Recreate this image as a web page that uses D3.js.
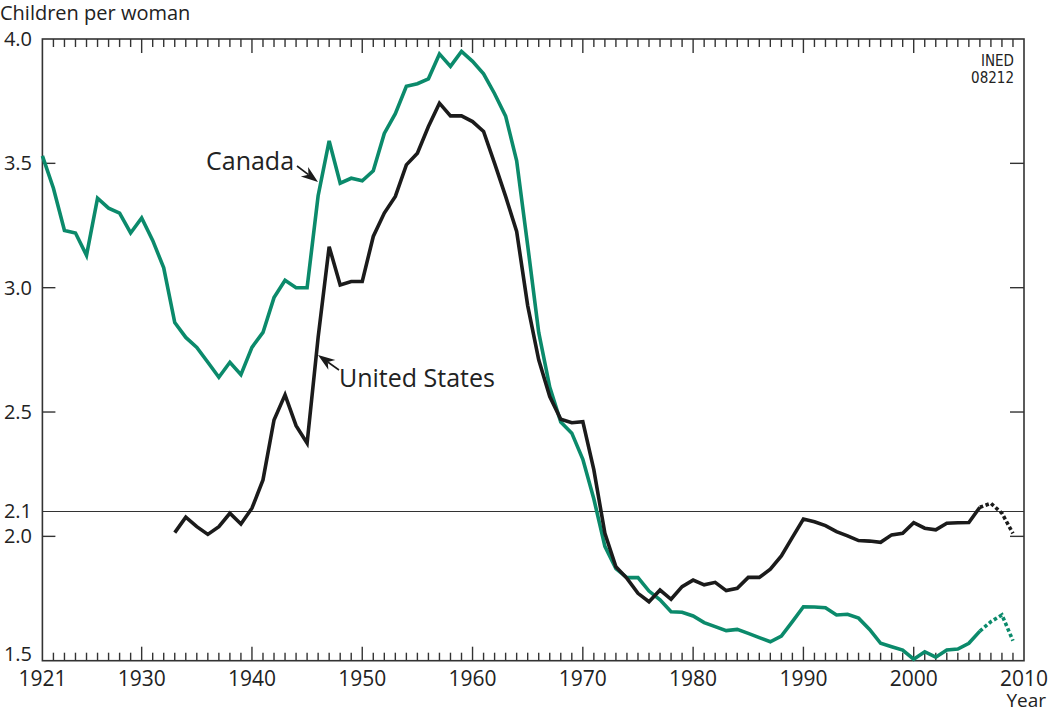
<!DOCTYPE html>
<html>
<head>
<meta charset="utf-8">
<script src="https://cdn.jsdelivr.net/npm/d3@7"></script>
<style>
  body { margin: 0; background: #fff; }
  svg text { font-family: "Open Sans", "Noto Sans", sans-serif; fill: #222; }
</style>
</head>
<body>
<svg id="chart" width="1050" height="714"></svg>
<script>
// total fertility rate, children per woman
const canadaStart = 1921;
const canadaTfr = [
  3.53, 3.40, 3.23, 3.22, 3.13, 3.36, 3.32, 3.30, 3.22, 3.28,
  3.19, 3.08, 2.86, 2.80, 2.76, 2.70, 2.64, 2.70, 2.65, 2.76,
  2.82, 2.96, 3.03, 3.00, 3.00, 3.37, 3.59, 3.42, 3.44, 3.43,
  3.47, 3.62, 3.70, 3.81, 3.82, 3.84, 3.94, 3.89, 3.95, 3.91,
  3.86, 3.78, 3.69, 3.51, 3.17, 2.82, 2.60, 2.46, 2.415, 2.31,
  2.15, 1.96, 1.87, 1.834, 1.834, 1.78, 1.745, 1.697, 1.695, 1.68,
  1.653, 1.637, 1.621, 1.626, 1.61, 1.593, 1.576, 1.599, 1.657, 1.717,
  1.716, 1.713, 1.684, 1.687, 1.671, 1.626, 1.57, 1.556, 1.543, 1.506,
  1.536, 1.514, 1.543, 1.547, 1.57, 1.619, 1.657, 1.684, 1.58
];
const usStart = 1933;
const usTfr = [
  2.015, 2.077, 2.039, 2.008, 2.039, 2.093, 2.05, 2.113, 2.227, 2.468,
  2.569, 2.445, 2.375, 2.80, 3.165, 3.011, 3.025, 3.025, 3.206, 3.30,
  3.367, 3.494, 3.541, 3.648, 3.742, 3.691, 3.691, 3.668, 3.628, 3.50,
  3.367, 3.226, 2.928, 2.71, 2.562, 2.471, 2.457, 2.461, 2.267, 2.012,
  1.878, 1.831, 1.771, 1.737, 1.784, 1.747, 1.798, 1.824, 1.805, 1.815,
  1.782, 1.791, 1.835, 1.835, 1.868, 1.921, 1.996, 2.07, 2.059, 2.043,
  2.019, 2.002, 1.983, 1.981, 1.976, 2.006, 2.012, 2.055, 2.033, 2.026,
  2.053, 2.055, 2.056, 2.117, 2.133, 2.093, 2.012
];
const estimatedFrom = 2006; // dotted after this year
const xTickLabels = [1921, 1930, 1940, 1950, 1960, 1970, 1980, 1990, 2000, 2010];
const yTickLabels = [1.5, 2.0, 2.5, 3.0, 3.5, 4.0];
const replacementLevel = 2.1;

const green = "#0b8a6b", black = "#1b1b1b", axisCol = "#333";

const svg = d3.select("#chart");
const x = d3.scaleLinear().domain([1921, 2010]).range([42.4, 1024]);
const y = d3.scaleLinear().domain([1.5, 4.0]).range([660.7, 39]);

const toPoints = (start, vals) => vals.map((v, i) => ({ year: start + i, v }));
const canada = toPoints(canadaStart, canadaTfr);
const us = toPoints(usStart, usTfr);

const line = d3.line().x(d => x(d.year)).y(d => y(d.v));

// replacement line
svg.append("line")
  .attr("x1", x(1921)).attr("x2", x(2010))
  .attr("y1", y(replacementLevel)).attr("y2", y(replacementLevel))
  .attr("stroke", axisCol).attr("stroke-width", 1.2);

// frame
svg.append("rect")
  .attr("x", x(1921)).attr("y", y(4.0))
  .attr("width", x(2010) - x(1921)).attr("height", y(1.5) - y(4.0))
  .attr("stroke", axisCol).attr("stroke-width", 1.6).attr("fill", "none");

// year ticks on top and bottom
const years = d3.range(1922, 2010);
const tickLen = yr => (yr % 10 === 0 ? 14 : 8);
const ticks = svg.append("g").attr("stroke", axisCol).attr("stroke-width", 1.4);
years.forEach(yr => {
  ticks.append("line")
    .attr("x1", x(yr)).attr("x2", x(yr))
    .attr("y1", y(4.0)).attr("y2", y(4.0) + tickLen(yr));
  ticks.append("line")
    .attr("x1", x(yr)).attr("x2", x(yr))
    .attr("y1", y(1.5)).attr("y2", y(1.5) - tickLen(yr));
});

// value ticks on both sides
yTickLabels.filter(v => v > 1.5 && v < 4.0).forEach(v => {
  ticks.append("line").attr("x1", x(1921)).attr("x2", x(1921) + 13)
    .attr("y1", y(v)).attr("y2", y(v));
  ticks.append("line").attr("x1", x(2010)).attr("x2", x(2010) - 14)
    .attr("y1", y(v)).attr("y2", y(v));
});

// axis labels
svg.append("g").selectAll("text")
  .data(xTickLabels).enter().append("text")
  .attr("x", d => x(d)).attr("y", 686)
  .attr("text-anchor", "middle").attr("font-size", 21)
  .text(d => d);

// bottom value label sits a little above its line, like the original
svg.append("g").selectAll("text")
  .data(yTickLabels.concat([replacementLevel])).enter().append("text")
  .attr("x", 32).attr("y", d => y(d) + (d === 1.5 ? 0 : 7))
  .attr("text-anchor", "end").attr("font-size", 20)
  .text(d => d.toFixed(1));

svg.append("text").attr("x", 0).attr("y", 20).attr("font-size", 20).text("Children per woman");
svg.append("text").attr("x", 1046).attr("y", 707).attr("text-anchor", "end").attr("font-size", 19).text("Year");

const narrow = "'Liberation Sans Narrow', 'DejaVu Sans Condensed', sans-serif";
svg.append("text").attr("x", 1014).attr("y", 66).attr("text-anchor", "end")
  .attr("font-size", 15).style("font-family", narrow).text("INED");
svg.append("text").attr("x", 1014).attr("y", 83).attr("text-anchor", "end")
  .attr("font-size", 15).style("font-family", narrow).text("08212");

// series
function drawSeries(data, color) {
  svg.append("path")
    .datum(data.filter(d => d.year <= estimatedFrom))
    .attr("fill", "none").attr("stroke", color).attr("stroke-width", 3.6)
    .attr("d", line);
  svg.append("path")
    .datum(data.filter(d => d.year >= estimatedFrom))
    .attr("fill", "none").attr("stroke", color).attr("stroke-width", 3.6)
    .attr("stroke-dasharray", "3.5,2.5")
    .attr("d", line);
}
drawSeries(canada, green);
drawSeries(us, black);

// label arrows: wedge head with a short tail
function arrow(x0, y0, x1, y1) {
  const ang = Math.atan2(y1 - y0, x1 - x0);
  const c = Math.cos(ang), s = Math.sin(ang);
  const L = 17, W = 6, notch = 5;
  const bx = x1 - L * c, by = y1 - L * s;
  svg.append("line").attr("x1", x0).attr("y1", y0).attr("x2", bx + notch * c).attr("y2", by + notch * s)
    .attr("stroke", black).attr("stroke-width", 1.6);
  svg.append("path")
    .attr("d", `M${x1},${y1}L${bx - s * W},${by + c * W}L${bx + notch * c},${by + notch * s}L${bx + s * W},${by - c * W}Z`)
    .attr("fill", black);
}

svg.append("text").attr("x", 206).attr("y", 170).attr("font-size", 25).text("Canada");
arrow(297, 166, 318, 182);

svg.append("text").attr("x", 339).attr("y", 387).attr("font-size", 25).text("United States");
arrow(339, 370, 318, 355);
</script>
</body>
</html>
